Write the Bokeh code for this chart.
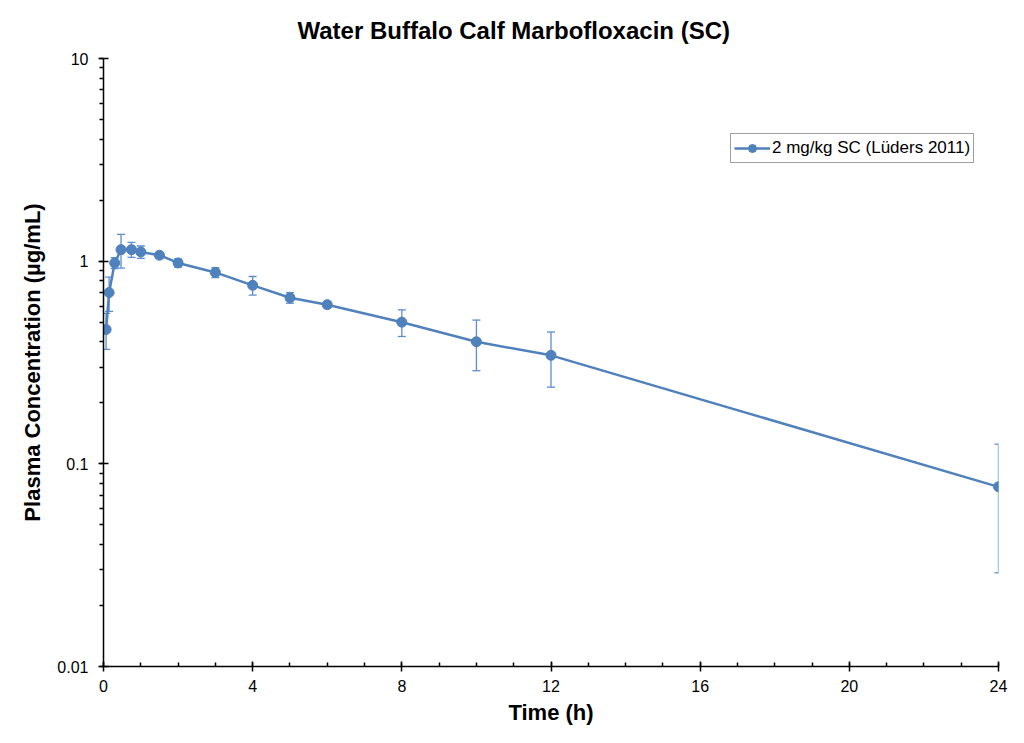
from bokeh.plotting import figure
from bokeh.models import (FixedTicker, Whisker, ColumnDataSource, TeeHead,
                          Legend, LegendItem, Range1d)
from bokeh.embed import file_html
from bokeh.resources import INLINE

# ---- data ----
time_h = [0.07, 0.15, 0.3, 0.47, 0.75, 1, 1.5, 2, 3, 4, 5, 6, 8, 10, 12, 24]
conc = [0.46, 0.70, 0.98, 1.14, 1.14, 1.11, 1.07, 0.98, 0.88, 0.76, 0.66,
        0.61, 0.50, 0.40, 0.343, 0.077]
sd = [0.093, 0.135, 0.06, 0.215, 0.097, 0.078, 0.035, 0.045, 0.05, 0.08,
      0.04, 0.022, 0.075, 0.112, 0.104, 0.048]
x_ticks = [0, 4, 8, 12, 16, 20, 24]
y_ticks = [0.01, 0.1, 1, 10]
series_label = "2 mg/kg SC (Lüders 2011)"
title_text = "Water Buffalo Calf Marbofloxacin (SC)"
x_label = "Time (h)"
y_label = "Plasma Concentration (µg/mL)"

BLUE = "#4F81BD"
ERR = "#5B8DD3"
FONT = "Liberation Sans"

src = ColumnDataSource(dict(
    x=time_h, y=conc,
    upper=[c + s for c, s in zip(conc, sd)],
    lower=[c - s for c, s in zip(conc, sd)],
))

p = figure(width=1008, height=727, y_axis_type="log",
           x_range=Range1d(0, 24), y_range=Range1d(0.01, 10),
           output_backend="svg", toolbar_location=None,
           min_border_left=103, min_border_right=10,
           min_border_top=58, min_border_bottom=61)

p.title.text = title_text
p.title.align = "left"
p.title.offset = 194
p.title.vertical_align = "top"
p.title.text_font = FONT
p.title.text_font_size = "24px"
p.title.text_font_style = "bold"
p.title.text_color = "black"
p.title.standoff = 26
p.outline_line_color = None
p.grid.visible = False

# axes
p.xaxis.ticker = FixedTicker(ticks=x_ticks, minor_ticks=list(range(0, 25)))
minor_y = [m * 10.0 ** e for e in (-2, -1, 0) for m in range(1, 11)]
p.yaxis.ticker = FixedTicker(ticks=y_ticks, minor_ticks=minor_y)
p.yaxis.major_label_overrides = {0.01: "0.01", 0.1: "0.1", 1: "1", 10: "10"}

for ax in (p.xaxis[0], p.yaxis[0]):
    ax.axis_line_color = "black"
    ax.axis_line_width = 1.5
    ax.major_tick_line_color = "black"
    ax.major_tick_line_width = 1.5
    ax.minor_tick_line_color = "black"
    ax.minor_tick_line_width = 1.5
    ax.major_tick_in = 5
    ax.major_tick_out = 5
    ax.major_label_text_font = FONT
    ax.major_label_text_font_size = "16px"
    ax.major_label_text_color = "black"
    ax.axis_label_text_font = FONT
    ax.axis_label_text_font_size = "22px"
    ax.axis_label_text_font_style = "bold"
    ax.axis_label_text_color = "black"

p.xaxis.minor_tick_in = 4
p.xaxis.minor_tick_out = 0
p.yaxis.minor_tick_in = 0
p.yaxis.minor_tick_out = 4
p.xaxis.major_label_standoff = 8
p.yaxis.major_label_standoff = 10
p.xaxis.axis_label = x_label
p.yaxis.axis_label = y_label
p.xaxis.axis_label_standoff = 5
p.yaxis.axis_label_standoff = 9

# error bars
w = Whisker(source=src, base="x", upper="upper", lower="lower",
            dimension="height", line_color=ERR, line_width=1.3,
            upper_head=TeeHead(size=8, line_color=ERR, line_width=1.3),
            lower_head=TeeHead(size=8, line_color=ERR, line_width=1.3))
p.add_layout(w)

ln = p.line("x", "y", source=src, line_color=BLUE, line_width=2.5)
sc = p.scatter("x", "y", source=src, size=10, fill_color=BLUE,
               line_color=BLUE, marker="circle")

legend = Legend(items=[LegendItem(label=series_label, renderers=[ln, sc])],
                location=(627, 503), padding=3, margin=0,
                glyph_width=36, glyph_height=20, label_height=22,
                label_standoff=2, spacing=0,
                label_text_font=FONT, label_text_font_size="17px",
                label_text_color="black",
                border_line_color="#404040", border_line_width=1,
                background_fill_color="white", background_fill_alpha=1)
p.add_layout(legend)

open("out.html", "w").write(file_html(p, INLINE))
